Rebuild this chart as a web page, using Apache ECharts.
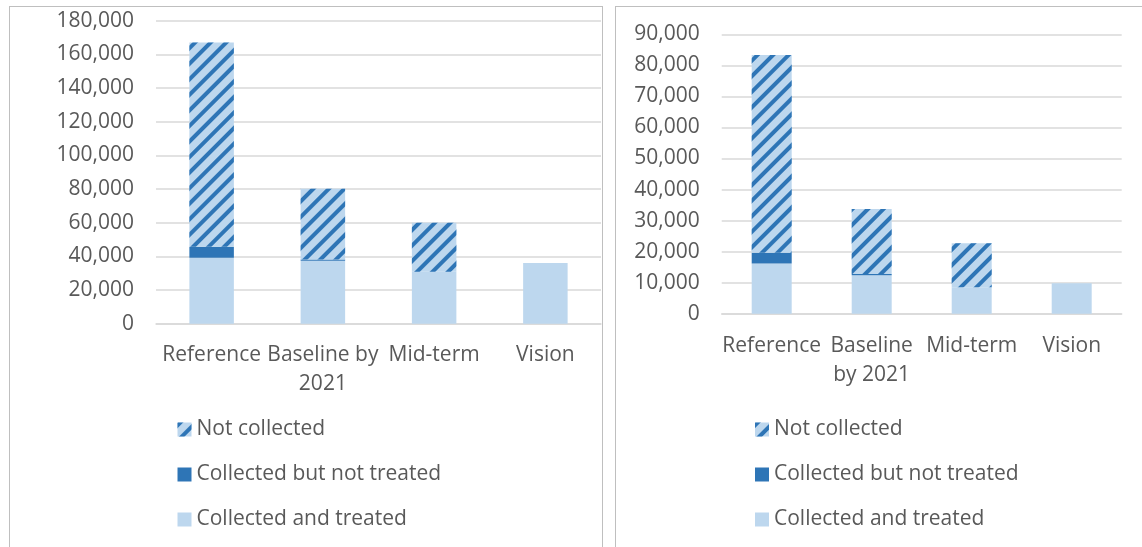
<!DOCTYPE html>
<html>
<head>
<meta charset="utf-8">
<script src="https://cdn.jsdelivr.net/npm/echarts@6/dist/echarts.min.js"></script>
<style>
  html, body { margin: 0; padding: 0; width: 1142px; height: 547px; overflow: hidden; background: #fff; }
  .panel { position: absolute; top: 6px; height: 560px; border: 1px solid #bfbfbf; }
  #c1 { left: 9px; width: 592px; }
  #c2 { left: 615px; width: 560px; }
</style>
</head>
<body>
<div id="c1" class="panel"></div>
<div id="c2" class="panel"></div>
<script>
// series names, legend order top to bottom
var seriesNames = ['Not collected', 'Collected but not treated', 'Collected and treated'];

// left chart
var categoriesLeft = ['Reference', 'Baseline by\n2021', 'Mid-term', 'Vision'];
var treatedLeft = [39200, 37400, 30900, 36100];
var notTreatedLeft = [6500, 800, 0, 0];
var notCollectedLeft = [121400, 42000, 29100, 0];

// right chart
var categoriesRight = ['Reference', 'Baseline\nby 2021', 'Mid-term', 'Vision'];
var treatedRight = [16200, 12400, 8500, 9800];
var notTreatedRight = [3400, 400, 0, 0];
var notCollectedRight = [63700, 20900, 14200, 0];

var textColor = '#595959';
var font = 'Open Sans';

function makeChart(id, option){
  var myChart = echarts.init(document.getElementById(id), null, {renderer: 'canvas'});
  myChart.setOption(option);
  window.addEventListener('resize', myChart.resize);
}

function buildOption(cfg){
  return {
    animation: false,
    textStyle: {fontFamily: font},
    grid: {left: cfg.gridLeft, top: cfg.gridTop, width: cfg.gridWidth, height: cfg.gridHeight},
    legend: {
      orient: 'vertical',
      left: cfg.legendLeft,
      top: 412,
      padding: 0,
      itemWidth: 14,
      itemHeight: 14,
      itemGap: 24,
      icon: 'rect',
      data: seriesNames,
      textStyle: {color: textColor, fontSize: 21, lineHeight: 21, fontFamily: font}
    },
    xAxis: {
      type: 'category',
      data: cfg.categories,
      axisLine: {lineStyle: {color: '#d9d9d9', width: 1.5}},
      axisTick: {show: false},
      axisLabel: {interval: 0, color: textColor, fontSize: 21, lineHeight: 29, margin: cfg.labelMargin, fontFamily: font}
    },
    yAxis: {
      type: 'value',
      min: 0,
      max: cfg.max,
      interval: cfg.interval,
      axisLine: {show: false},
      axisTick: {show: false},
      splitLine: {lineStyle: {color: '#d9d9d9', width: 1.5}},
      axisLabel: {
        color: textColor, fontSize: 21, margin: 22, fontFamily: font,
        formatter: function(v){ return v.toLocaleString('en-US'); }
      }
    },
    series: [
      {
        name: 'Collected and treated', type: 'bar', stack: 'all', barWidth: '40%',
        itemStyle: {color: '#bdd7ee'},
        data: cfg.treated
      },
      {
        name: 'Collected but not treated', type: 'bar', stack: 'all', barWidth: '40%',
        itemStyle: {color: '#2e75b6'},
        data: cfg.notTreated
      },
      {
        name: 'Not collected', type: 'bar', stack: 'all', barWidth: '40%',
        itemStyle: {
          color: '#bdd7ee',
          decal: {
            symbol: 'rect',
            symbolSize: 1,
            color: '#2e75b6',
            dashArrayX: [1, 0],
            dashArrayY: [4, 7],
            rotation: -Math.PI / 4
          }
        },
        data: cfg.notCollected
      }
    ]
  };
}

var option1 = buildOption({
  gridLeft: 146, gridTop: 13.7, gridWidth: 445, gridHeight: 303,
  legendLeft: 167.5, labelMargin: 17, max: 180000, interval: 20000,
  categories: categoriesLeft, treated: treatedLeft, notTreated: notTreatedLeft, notCollected: notCollectedLeft
});

var option2 = buildOption({
  gridLeft: 105.7, gridTop: 27.3, gridWidth: 400, gridHeight: 279.4,
  legendLeft: 139, labelMargin: 18, max: 90000, interval: 10000,
  categories: categoriesRight, treated: treatedRight, notTreated: notTreatedRight, notCollected: notCollectedRight
});

makeChart('c1', option1);
makeChart('c2', option2);
</script>
</body>
</html>
